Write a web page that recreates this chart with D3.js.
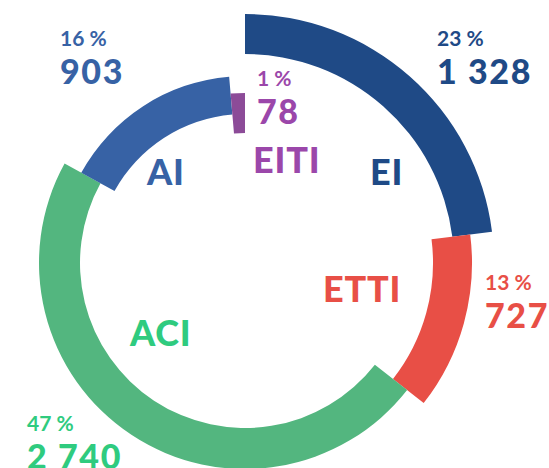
<!DOCTYPE html>
<html>
<head>
<meta charset="utf-8">
<script src="https://cdn.jsdelivr.net/npm/d3@7"></script>
<style>
  html, body { margin: 0; padding: 0; background: #fff; }
  svg { display: block; }
  text { font-family: Lato, "Open Sans", sans-serif; }
</style>
</head>
<body>
<div id="chart"></div>
<script>
// data
var categories = ['EI', 'ETTI', 'ACI', 'AI', 'EITI'];
var values = [1328, 727, 2740, 903, 78];

// look
var colors = ['#1f4a86', '#e84f46', '#53b67f', '#3762a5', '#8c4b98'];
var textColors = ['#1f4a86', '#e84f46', '#2fcb7f', '#3762a5', '#9b47aa'];
var radii = [[209, 249], [188, 227], [165, 206], [149, 187], [130, 170]];
// where the name and the value labels go
var namePos = [[370, 185], [323, 302], [130, 346], [147, 185], [253, 173]];
var valuePos = [[437, 46], [485, 290], [27, 431], [60, 46], [257, 86]];

var width = 549, height = 468;
var cx = 245, cy = 263;

var fmt = d3.formatLocale({ decimal: ',', thousands: ' ', grouping: [3], currency: ['', ''] }).format(',d');
var total = d3.sum(values);

var svg = d3.select('#chart').append('svg')
    .attr('width', width)
    .attr('height', height);

var g = svg.append('g')
    .attr('transform', 'translate(' + cx + ',' + cy + ')');

var pie = d3.pie().sort(null).value(function (d) { return d; });
var arcs = pie(values);

var arc = d3.arc()
    .innerRadius(function (d) { return radii[d.index][0]; })
    .outerRadius(function (d) { return radii[d.index][1]; });

g.selectAll('path.seg')
    .data(arcs)
    .enter().append('path')
    .attr('class', 'seg')
    .attr('d', arc)
    .attr('fill', function (d) { return colors[d.index]; });

// category names inside the ring
svg.selectAll('text.name')
    .data(categories)
    .enter().append('text')
    .attr('class', 'name')
    .attr('x', function (d, i) { return namePos[i][0]; })
    .attr('y', function (d, i) { return namePos[i][1]; })
    .attr('fill', function (d, i) { return textColors[i]; })
    .style('font-size', '36px')
    .style('font-weight', 900)
    .style('letter-spacing', '0.8px')
    .text(function (d) { return d; });

// percent + value
var vals = svg.selectAll('g.val')
    .data(values)
    .enter().append('g')
    .attr('class', 'val')
    .attr('transform', function (d, i) { return 'translate(' + valuePos[i][0] + ',' + valuePos[i][1] + ')'; });

vals.append('text')
    .attr('fill', function (d, i) { return textColors[i]; })
    .style('font-size', '21px')
    .style('font-weight', 700)
    .text(function (d) { return Math.round(d / total * 100) + ' %'; });

vals.append('text')
    .attr('y', 38)
    .attr('fill', function (d, i) { return textColors[i]; })
    .style('font-size', '34px')
    .style('font-weight', 900)
    .style('letter-spacing', '1.6px')
    .text(function (d) { return fmt(d); });
</script>
</body>
</html>
